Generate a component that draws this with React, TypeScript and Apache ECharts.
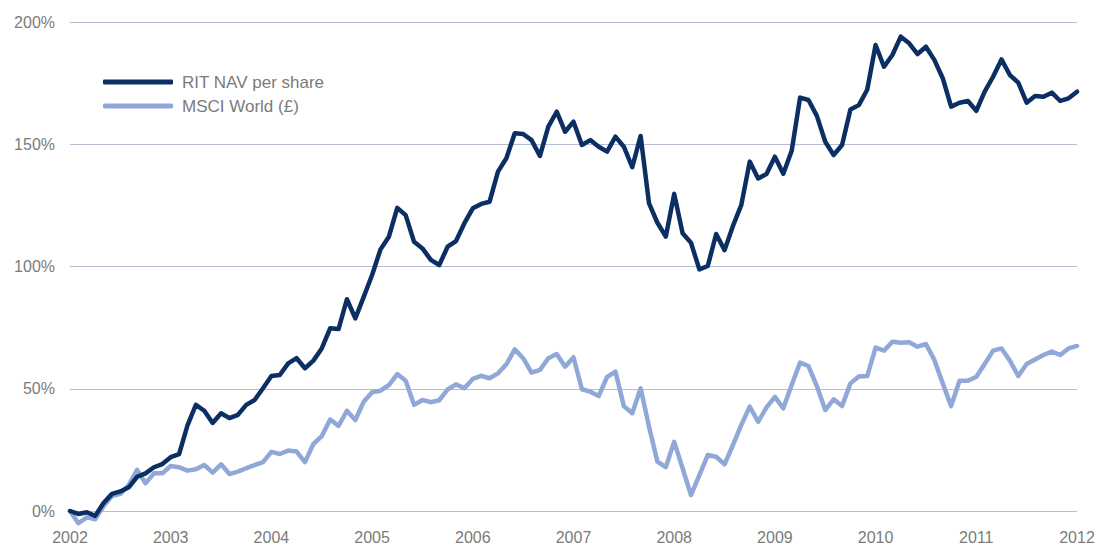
import React, { useEffect, useRef } from "react";
import * as echarts from "echarts";

const years = [2002, 2003, 2004, 2005, 2006, 2007, 2008, 2009, 2010, 2011, 2012];
const monthNames = ["Jan", "Feb", "Mar", "Apr", "May", "Jun", "Jul", "Aug", "Sep", "Oct", "Nov", "Dec"];
const months: string[] = [];
for (let y = 2002; y <= 2011; y++) for (const m of monthNames) months.push(`${m} ${y}`);
months.push("Jan 2012");

const yTicks = [0, 50, 100, 150, 200];

const ritNav = [
  0, -1.2, -0.5, -2, 3.3, 7, 8, 9.7, 14, 15.4, 17.9, 19.2,
  22, 23.3, 35, 43.4, 41, 36, 40, 38, 39.3, 43.4, 45.4, 50.2,
  55.2, 55.6, 60.4, 62.5, 58.4, 61.5, 66.5, 74.7, 74.4, 86.6, 78.8, 87.6,
  96.5, 107, 112.2, 124, 121, 110.1, 107.4, 102.7, 100.6, 108.1, 110.4, 117.7,
  123.8, 125.6, 126.5, 138.8, 144.3, 154.5, 154.2, 151.7, 145.2, 157.2, 163.3, 155.1,
  159.2, 149.7, 151.7, 149, 147, 153.1, 149, 140.6, 153.4, 125.8, 117.9, 112.2,
  129.7, 113.6, 109.7, 98.8, 100.2, 113.3, 106.7, 116.6, 125.2, 142.9, 136, 137.8,
  144.9, 137.9, 147.3, 169.1, 168.1, 161.6, 151, 145.6, 149.7, 164.2, 166, 172.3,
  190.6, 181.7, 186.5, 194, 191.3, 186.9, 189.9, 184.5, 177, 165.4, 167, 167.7,
  163.7, 171.5, 177.6, 184.7, 178.3, 175.2, 167, 169.7, 169.4, 171.1, 167.7, 168.8,
  171.5,
];

const msciWorld = [
  0, -5, -2.6, -3.4, 2, 6.1, 7, 10.6, 16.8, 11.3, 15.4, 15.4,
  18.4, 17.9, 16.5, 17.1, 18.8, 15.7, 19.1, 15.1, 16.1, 17.5, 18.8, 20,
  24.2, 23.3, 24.7, 24.3, 20, 27.4, 30.6, 37.4, 34.8, 41, 37.2, 44.7,
  48.6, 49.2, 51.5, 56, 53.3, 43.4, 45.4, 44.5, 45.3, 49.7, 51.8, 50.2,
  54, 55.3, 54.3, 56.3, 60, 66.1, 62.5, 56.6, 57.7, 62.5, 64.2, 59,
  62.9, 49.8, 48.8, 47, 54.8, 57, 42.9, 40, 50.2, 34.5, 20.2, 17.9,
  28.3, 17.5, 6.5, 14.7, 22.9, 22.2, 19.1, 27, 35.2, 42.7, 36.5, 42.4,
  46.7, 42, 51.5, 60.7, 59.3, 51.1, 41.3, 45.7, 42.9, 52.2, 55, 55.2,
  66.8, 65.6, 69.2, 68.8, 69, 67.2, 68.3, 61.8, 52.2, 42.9, 53.3, 53.3,
  54.9, 60.1, 65.6, 66.5, 61.5, 55.2, 60.1, 62, 63.8, 65.2, 63.8, 66.5,
  67.5,
];

const seriesNames = ["RIT NAV per share", "MSCI World (£)"];
const colors = ["#0b2f63", "#8fa8d8"];

export default function App() {
  const ref = useRef<HTMLDivElement>(null);
  useEffect(() => {
    document.body.style.margin = "0";
    const chart = echarts.init(ref.current!, null, { renderer: "svg" });
    const font = "'Liberation Sans', Arial, sans-serif";
    chart.setOption({
      animation: false,
      backgroundColor: "#ffffff",
      grid: { left: 70, right: 22, top: 22, bottom: 34, containLabel: false },
      legend: {
        show: true,
        orient: "vertical",
        left: 103,
        top: 72,
        padding: 0,
        itemWidth: 70,
        itemHeight: 5,
        itemGap: 4,
        icon: "roundRect",
        data: seriesNames.map((n, i) => ({ name: n, itemStyle: { color: colors[i] } })),
        textStyle: { color: "#7b7b7b", fontSize: 17, fontFamily: font, lineHeight: 20, padding: [0, 0, 0, 4] },
      },
      xAxis: {
        type: "category",
        data: months,
        boundaryGap: false,
        axisLine: { show: false },
        axisTick: { show: false },
        splitLine: { show: false },
        axisLabel: {
          interval: (idx: number) => idx % 12 === 0,
          formatter: (v: string) => {
            const y = Number(v.split(" ")[1]);
            return years.includes(y) ? String(y) : "";
          },
          color: "#7b7b7b",
          fontSize: 16,
          fontFamily: font,
          margin: 18,
          showMaxLabel: true,
        },
      },
      yAxis: {
        type: "value",
        min: yTicks[0],
        max: yTicks[yTicks.length - 1],
        interval: 50,
        axisLine: { show: false },
        axisTick: { show: false },
        splitLine: { show: true, lineStyle: { color: "#b6bdd5", width: 1 } },
        axisLabel: {
          formatter: (v: number) => `${v}%`,
          color: "#7b7b7b",
          fontSize: 16,
          fontFamily: font,
          margin: 15,
        },
      },
      series: [
        {
          name: seriesNames[1],
          type: "line",
          data: msciWorld,
          clip: false,
          showSymbol: false,
          symbol: "none",
          lineStyle: { color: colors[1], width: 4.5, join: "round", cap: "round" },
          itemStyle: { color: colors[1] },
          z: 2,
        },
        {
          name: seriesNames[0],
          type: "line",
          data: ritNav,
          clip: false,
          showSymbol: false,
          symbol: "none",
          lineStyle: { color: colors[0], width: 4.5, join: "round", cap: "round" },
          itemStyle: { color: colors[0] },
          z: 3,
        },
      ],
    });
    return () => chart.dispose();
  }, []);
  return <div ref={ref} style={{ width: 1099, height: 545 }} />;
}
